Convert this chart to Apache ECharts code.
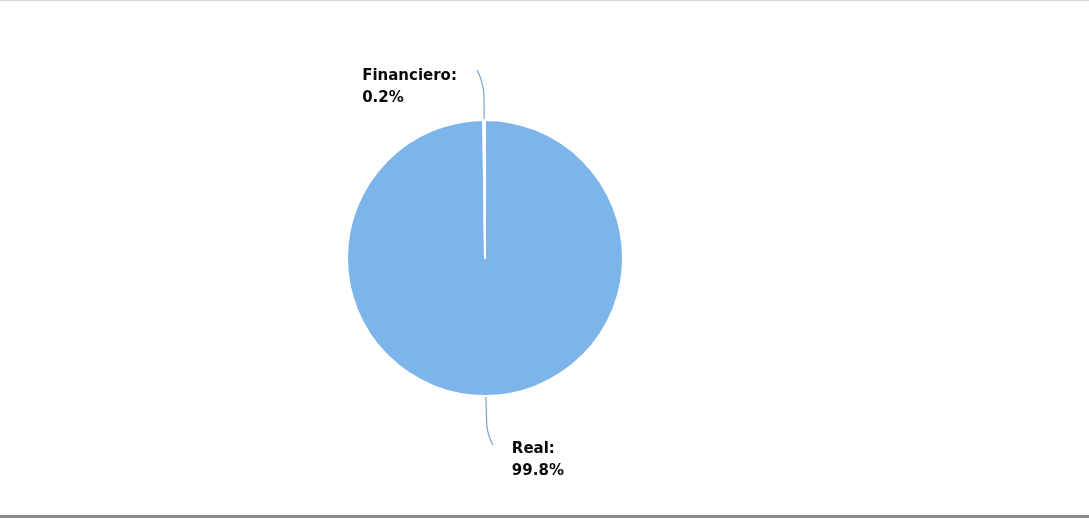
<!DOCTYPE html>
<html>
<head>
<meta charset="utf-8">
<script src="https://cdn.jsdelivr.net/npm/echarts@6/dist/echarts.min.js"></script>
<style>
html,body{margin:0;padding:0;background:#fff;}
#frame{position:absolute;left:0;top:0;width:1089px;height:514px;border-top:1px solid #d3d3d3;border-bottom:3px solid #8a8a8a;box-sizing:content-box;}
#chart{width:1089px;height:514px;}
</style>
</head>
<body>
<div id="frame"><div id="chart"></div></div>
<script>
const categories = ['Real', 'Financiero'];
const values = [99.8, 0.2];

const chart = echarts.init(document.getElementById('chart'), null, {renderer: 'canvas'});
chart.setOption({
  animation: false,
  backgroundColor: '#ffffff',
  series: [{
    type: 'pie',
    center: [485, 257],
    radius: [0, 138],
    startAngle: 90,
    clockwise: true,
    percentPrecision: 1,
    avoidLabelOverlap: false,
    itemStyle: { color: '#7db4ea', borderColor: '#ffffff', borderWidth: 2 },
    label: {
      show: true,
      formatter: '{b}:\n{d}%',
      fontFamily: 'DejaVu Sans',
      fontWeight: 'bold',
      fontSize: 15,
      lineHeight: 22,
      color: '#0a0a0a'
    },
    labelLine: {
      show: true,
      length: 40,
      length2: 8,
      smooth: 0.5,
      lineStyle: { color: '#7aa5d0', width: 1.2 }
    },
    labelLayout: function (params) {
      const p0 = params.labelLinePoints[0];
      if (params.dataIndex === 1) {
        const end = [p0[0] - 7, p0[1] - 50];
        return {
          x: end[0] - 115, y: end[1] - 5,
          align: 'left', verticalAlign: 'top',
          labelLinePoints: [p0, [p0[0], p0[1] - 36], end]
        };
      }
      const end = [p0[0] + 7, p0[1] + 49];
      return {
        x: end[0] + 19, y: end[1] - 7,
        align: 'left', verticalAlign: 'top',
        labelLinePoints: [p0, [p0[0] + 1, p0[1] + 38], end]
      };
    },
    data: categories.map((c, i) => ({ name: c, value: values[i] }))
  }]
});
</script>
</body>
</html>
